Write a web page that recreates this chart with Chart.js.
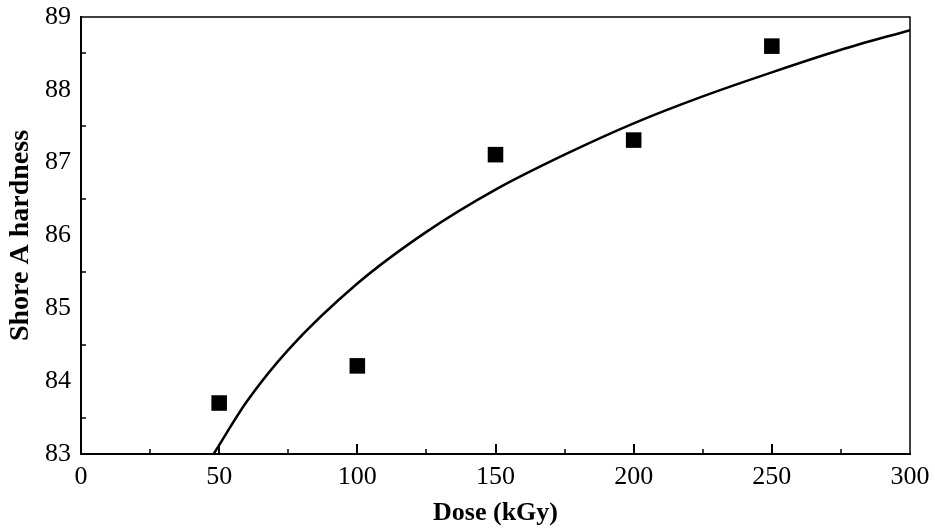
<!DOCTYPE html>
<html>
<head>
<meta charset="utf-8">
<title>Shore A hardness vs dose</title>
<script src="https://cdn.jsdelivr.net/npm/chart.js@4"></script>
<style>
  html, body { margin: 0; padding: 0; background: #fff; }
  #wrap { width: 935px; height: 531px; }
</style>
</head>
<body>
<div id="wrap"><canvas id="hardnessChart" width="935" height="531"></canvas></div>
<script>
// measured points
var doses = [50, 100, 150, 200, 250];
var hardness = [83.70, 84.21, 87.11, 87.31, 88.60];

// trend curve
var fitDose = [48, 60, 75, 100, 125, 150, 175, 200, 225, 250, 275, 300];
var fitHardness = [83.0, 83.72, 84.43, 85.34, 86.05, 86.63, 87.11, 87.54, 87.91, 88.24, 88.55, 88.82];

// axis ticks
var xTicks = [0, 50, 100, 150, 200, 250, 300];
var xMinorTicks = [25, 75, 125, 175, 225, 275];
var yTicks = [83, 84, 85, 86, 87, 88, 89];
var yMinorTicks = [83.5, 84.5, 85.5, 86.5, 87.5, 88.5];

// frame + inward tick marks
var framePlugin = {
    id: 'frame',
    afterDatasetsDraw: function(chart) {
        var c = chart.ctx, a = chart.chartArea;
        var xs = chart.scales.x, ys = chart.scales.y;
        c.save();
        c.strokeStyle = '#000';
        c.lineWidth = 1.5;
        c.beginPath();
        c.moveTo(a.left, a.top); c.lineTo(a.right, a.top); c.lineTo(a.right, a.bottom);
        c.stroke();
        c.lineWidth = 2;
        c.beginPath();
        xTicks.slice(1, -1).forEach(function(v) {
            var px = Math.round(xs.getPixelForValue(v));
            c.moveTo(px, a.bottom); c.lineTo(px, a.bottom - 10);
        });
        c.stroke();
        c.lineWidth = 1.5;
        c.beginPath();
        xMinorTicks.forEach(function(v) {
            var px = Math.round(xs.getPixelForValue(v));
            c.moveTo(px, a.bottom); c.lineTo(px, a.bottom - 5);
        });
        yMinorTicks.forEach(function(v) {
            var py = Math.round(ys.getPixelForValue(v));
            c.moveTo(a.left, py); c.lineTo(a.left + 5, py);
        });
        c.stroke();
        c.restore();
    }
};

var ctx = document.getElementById('hardnessChart').getContext('2d');
var chart = new Chart(ctx, {
    type: 'scatter',
    data: {
        datasets: [{
            label: 'Shore A hardness',
            data: doses.map(function(d, i) { return { x: d, y: hardness[i] }; }),
            pointStyle: 'rect',
            pointRadius: 11,
            pointBorderWidth: 0,
            backgroundColor: '#000',
            borderColor: '#000'
        }, {
            label: 'fit',
            type: 'line',
            data: fitDose.map(function(d, i) { return { x: d, y: fitHardness[i] }; }),
            borderColor: '#000',
            borderWidth: 2.5,
            pointRadius: 0,
            fill: false,
            cubicInterpolationMode: 'monotone'
        }]
    },
    options: {
        responsive: false,
        animation: false,
        layout: { padding: { top: 17, right: 25, left: 4, bottom: 2 } },
        plugins: { legend: { display: false }, tooltip: { enabled: false } },
        scales: {
            x: {
                type: 'linear',
                min: 0, max: 300,
                afterBuildTicks: function(s) { s.ticks = xTicks.map(function(v) { return { value: v }; }); },
                afterFit: function(s) { s.height = 75; s.paddingLeft = 0; s.paddingRight = 0; },
                grid: { display: false, drawTicks: false },
                border: { display: true, color: '#000', width: 2 },
                ticks: {
                    color: '#000', padding: 8,
                    font: { family: 'Liberation Serif', size: 26 },
                    maxRotation: 0
                },
                title: {
                    display: true, text: 'Dose (kGy)', color: '#000',
                    font: { family: 'Liberation Serif', size: 26, weight: 'bold' },
                    padding: 0
                }
            },
            y: {
                min: 83, max: 89,
                afterBuildTicks: function(s) { s.ticks = yTicks.map(function(v) { return { value: v }; }); },
                afterFit: function(s) { s.width = 77; s.paddingTop = 0; s.paddingBottom = 0; },
                grid: { display: false, drawTicks: false },
                border: { display: true, color: '#000', width: 2 },
                ticks: {
                    color: '#000', padding: 10,
                    font: { family: 'Liberation Serif', size: 26 }
                },
                title: {
                    display: true, text: 'Shore A hardness', color: '#000',
                    font: { family: 'Liberation Serif', size: 28, weight: 'bold' },
                    padding: 0
                }
            }
        }
    },
    plugins: [framePlugin]
});
</script>
</body>
</html>
